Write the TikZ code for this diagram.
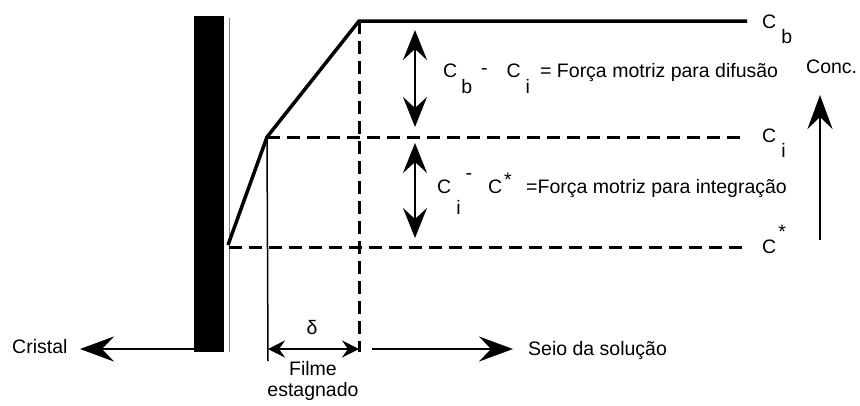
\documentclass[tikz,border=0pt]{standalone}
\usepackage{fontspec}
\setmainfont{Liberation Sans}
\usetikzlibrary{arrows.meta}

\newcommand{\lowtxt}[2]{\raisebox{-#1}{#2}}

\begin{document}
\begin{tikzpicture}[x=1pt, y=-1pt,
    lbl/.style={font=\fontsize{19.5}{22}\selectfont, inner sep=0pt, anchor=base west},
    clbl/.style={lbl, anchor=base},
    profile/.style={line width=3.5pt, line join=round},
    level/.style={line width=3pt, dash pattern=on 13pt off 7pt},
    dbl/.style={{Stealth[length=30pt, width=24pt, inset=11pt]}-{Stealth[length=30pt, width=24pt, inset=11pt]}, line width=2.6pt},
    arrow/.style={-{Stealth[length=34pt, width=25pt, inset=12pt]}, line width=2.6pt},
    small/.style={{Stealth[length=17pt, width=17pt, inset=6pt]}-{Stealth[length=17pt, width=17pt, inset=6pt]}, line width=2.6pt}
]
\useasboundingbox (0,0) rectangle (860,405);

% crystal wall
\fill (194,16) rectangle (224,352);
\draw[gray, line width=1pt] (229,18) -- (229,352);

% points of the profile
\coordinate (c0) at (228,245);
\coordinate (ci) at (267,137);
\coordinate (cb) at (359,21);
\coordinate (cbend) at (747,21);
\coordinate (ciend) at (747,137);
\coordinate (cs0) at (229,247);
\coordinate (csend) at (747,247);
\coordinate (vbot) at (359,352);
\coordinate (fbot) at (268,361);

\draw[level] (ci) -- (ciend);
\draw[level] (cs0) -- (csend);
\draw[level] (cb) -- (vbot);
\draw[line width=1.5pt] (ci) -- (fbot);
\draw[profile] (c0) -- (ci) -- (cb) -- (cbend);

% level labels
\node[lbl] (Cb) at (762,28) {C\hspace{5pt}\lowtxt{15pt}{b}};
\node[lbl] (Ci) at (762,142) {C\hspace{5pt}\lowtxt{15pt}{i}};
\node[lbl] (Cs) at (762,253) {C\hspace{2pt}\raisebox{15pt}{*}};

% driving forces
\coordinate (d1a) at (415,30);
\coordinate (d1b) at (415,127);
\coordinate (d2a) at (415,143);
\coordinate (d2b) at (415,238);
\draw[dbl] (d1a) -- (d1b);
\draw[dbl] (d2a) -- (d2b);
\node[lbl] (dlhs) at (443,77) {C\hspace{4pt}\lowtxt{16pt}{b}\hspace{9pt}\raisebox{3pt}{-}\hspace{19pt}C\hspace{5pt}\lowtxt{16pt}{i}};
\node[lbl] (drhs) at (540,77) {= Força motriz para difusão};
\node[lbl] (ilhs) at (437,193) {C\hspace{5pt}\lowtxt{21pt}{i}\hspace{5pt}\raisebox{14pt}{-}\hspace{16pt}C\hspace{2pt}\raisebox{7pt}{*}};
\node[lbl] (irhs) at (526,193) {=Força motriz para integração};

% concentration axis
\node[lbl] (conc) at (806,73) {Conc.};
\coordinate (k0) at (820,240);
\coordinate (k1) at (820,95);
\draw[arrow] (k0) -- (k1);

% bottom
\node[lbl] (cristal) at (12,353) {Cristal};
\coordinate (cr0) at (200,349);
\coordinate (cr1) at (80,349);
\draw[arrow] (cr0) -- (cr1);

\coordinate (f0) at (268,349);
\coordinate (f1) at (359,349);
\draw[small] (f0) -- (f1);
\node[clbl] (delta) at (312,334) {δ};
\node[clbl] (filme) at (313,375) {Filme};
\node[clbl] (estag) at (313,396) {estagnado};

\coordinate (s0) at (372,349);
\coordinate (s1) at (513,349);
\draw[arrow] (s0) -- (s1);
\node[lbl] (seio) at (528,355) {Seio da solução};
\end{tikzpicture}
\end{document}
